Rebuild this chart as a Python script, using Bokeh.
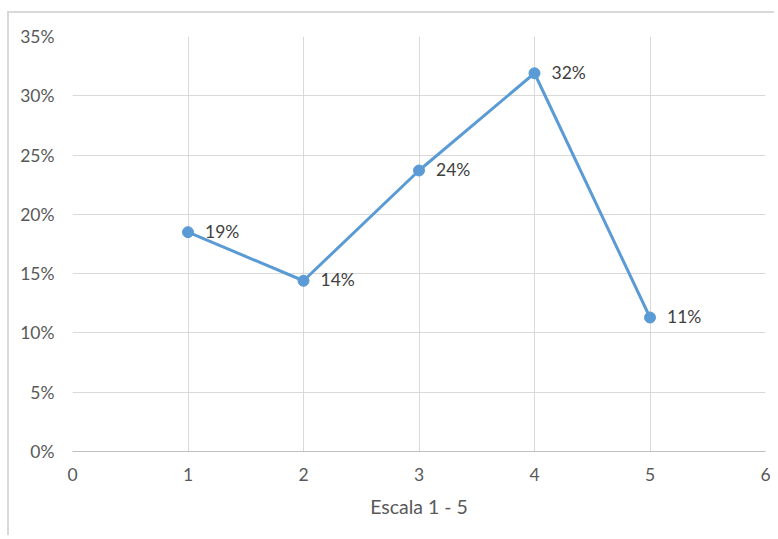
from bokeh.plotting import figure
from bokeh.models import FixedTicker, NumeralTickFormatter, ColumnDataSource, LabelSet, Range1d
from bokeh.core.properties import value
from bokeh.embed import file_html
from bokeh.resources import INLINE

# data
escala = [1, 2, 3, 4, 5]
share = [0.185, 0.144, 0.237, 0.319, 0.113]
labels = ["19%", "14%", "24%", "32%", "11%"]
x_ticks = [0, 1, 2, 3, 4, 5, 6]
y_ticks = [0, 0.05, 0.10, 0.15, 0.20, 0.25, 0.30, 0.35]

FONT = "Lato"
GREY = "#595959"
BLUE = "#5B9BD5"

p = figure(width=767, height=524, output_backend="svg", toolbar_location=None,
           x_range=Range1d(0, 6), y_range=Range1d(0, 0.35),
           min_border_left=63, min_border_right=11, min_border_top=23, min_border_bottom=86)
p.styles = {"margin-top": "11px", "margin-left": "7px",
            "border-top": "2px solid #d9d9d9", "border-left": "2px solid #d9d9d9"}

p.outline_line_color = None
p.background_fill_color = "white"
p.border_fill_color = "white"

src = ColumnDataSource(dict(x=escala, y=share, t=labels))
p.line("x", "y", source=src, line_color=BLUE, line_width=3)
p.scatter("x", "y", source=src, size=11, fill_color=BLUE, line_color=BLUE)
p.add_layout(LabelSet(x="x", y="y", text="t", source=src, x_offset=17, y_offset=1,
                      text_baseline="middle", text_align="left", text_font=value(FONT),
                      text_font_size="17.5px", text_color="#404040"))

p.xaxis.ticker = FixedTicker(ticks=x_ticks)
p.yaxis.ticker = FixedTicker(ticks=y_ticks)
p.yaxis.formatter = NumeralTickFormatter(format="0%")

for ax in (p.xaxis, p.yaxis):
    ax.major_tick_line_color = None
    ax.minor_tick_line_color = None
    ax.major_label_text_font = FONT
    ax.major_label_text_font_size = "17.5px"
    ax.major_label_text_color = GREY
    ax.axis_label_text_font = FONT
    ax.axis_label_text_font_size = "19.5px"
    ax.axis_label_text_color = GREY
    ax.axis_label_text_font_style = "normal"

p.yaxis.axis_line_color = None
p.yaxis.major_label_standoff = 12
p.xaxis.axis_line_color = "#bfbfbf"
p.xaxis.axis_line_width = 1
p.xaxis.major_label_standoff = 10
p.xaxis.axis_label = "Escala 1 - 5"
p.xaxis.axis_label_standoff = 11

p.xgrid.ticker = FixedTicker(ticks=x_ticks)
p.ygrid.ticker = FixedTicker(ticks=y_ticks)
p.grid.grid_line_color = "#d9d9d9"
p.grid.grid_line_width = 1

open("out.html", "w").write(file_html(p, INLINE))
